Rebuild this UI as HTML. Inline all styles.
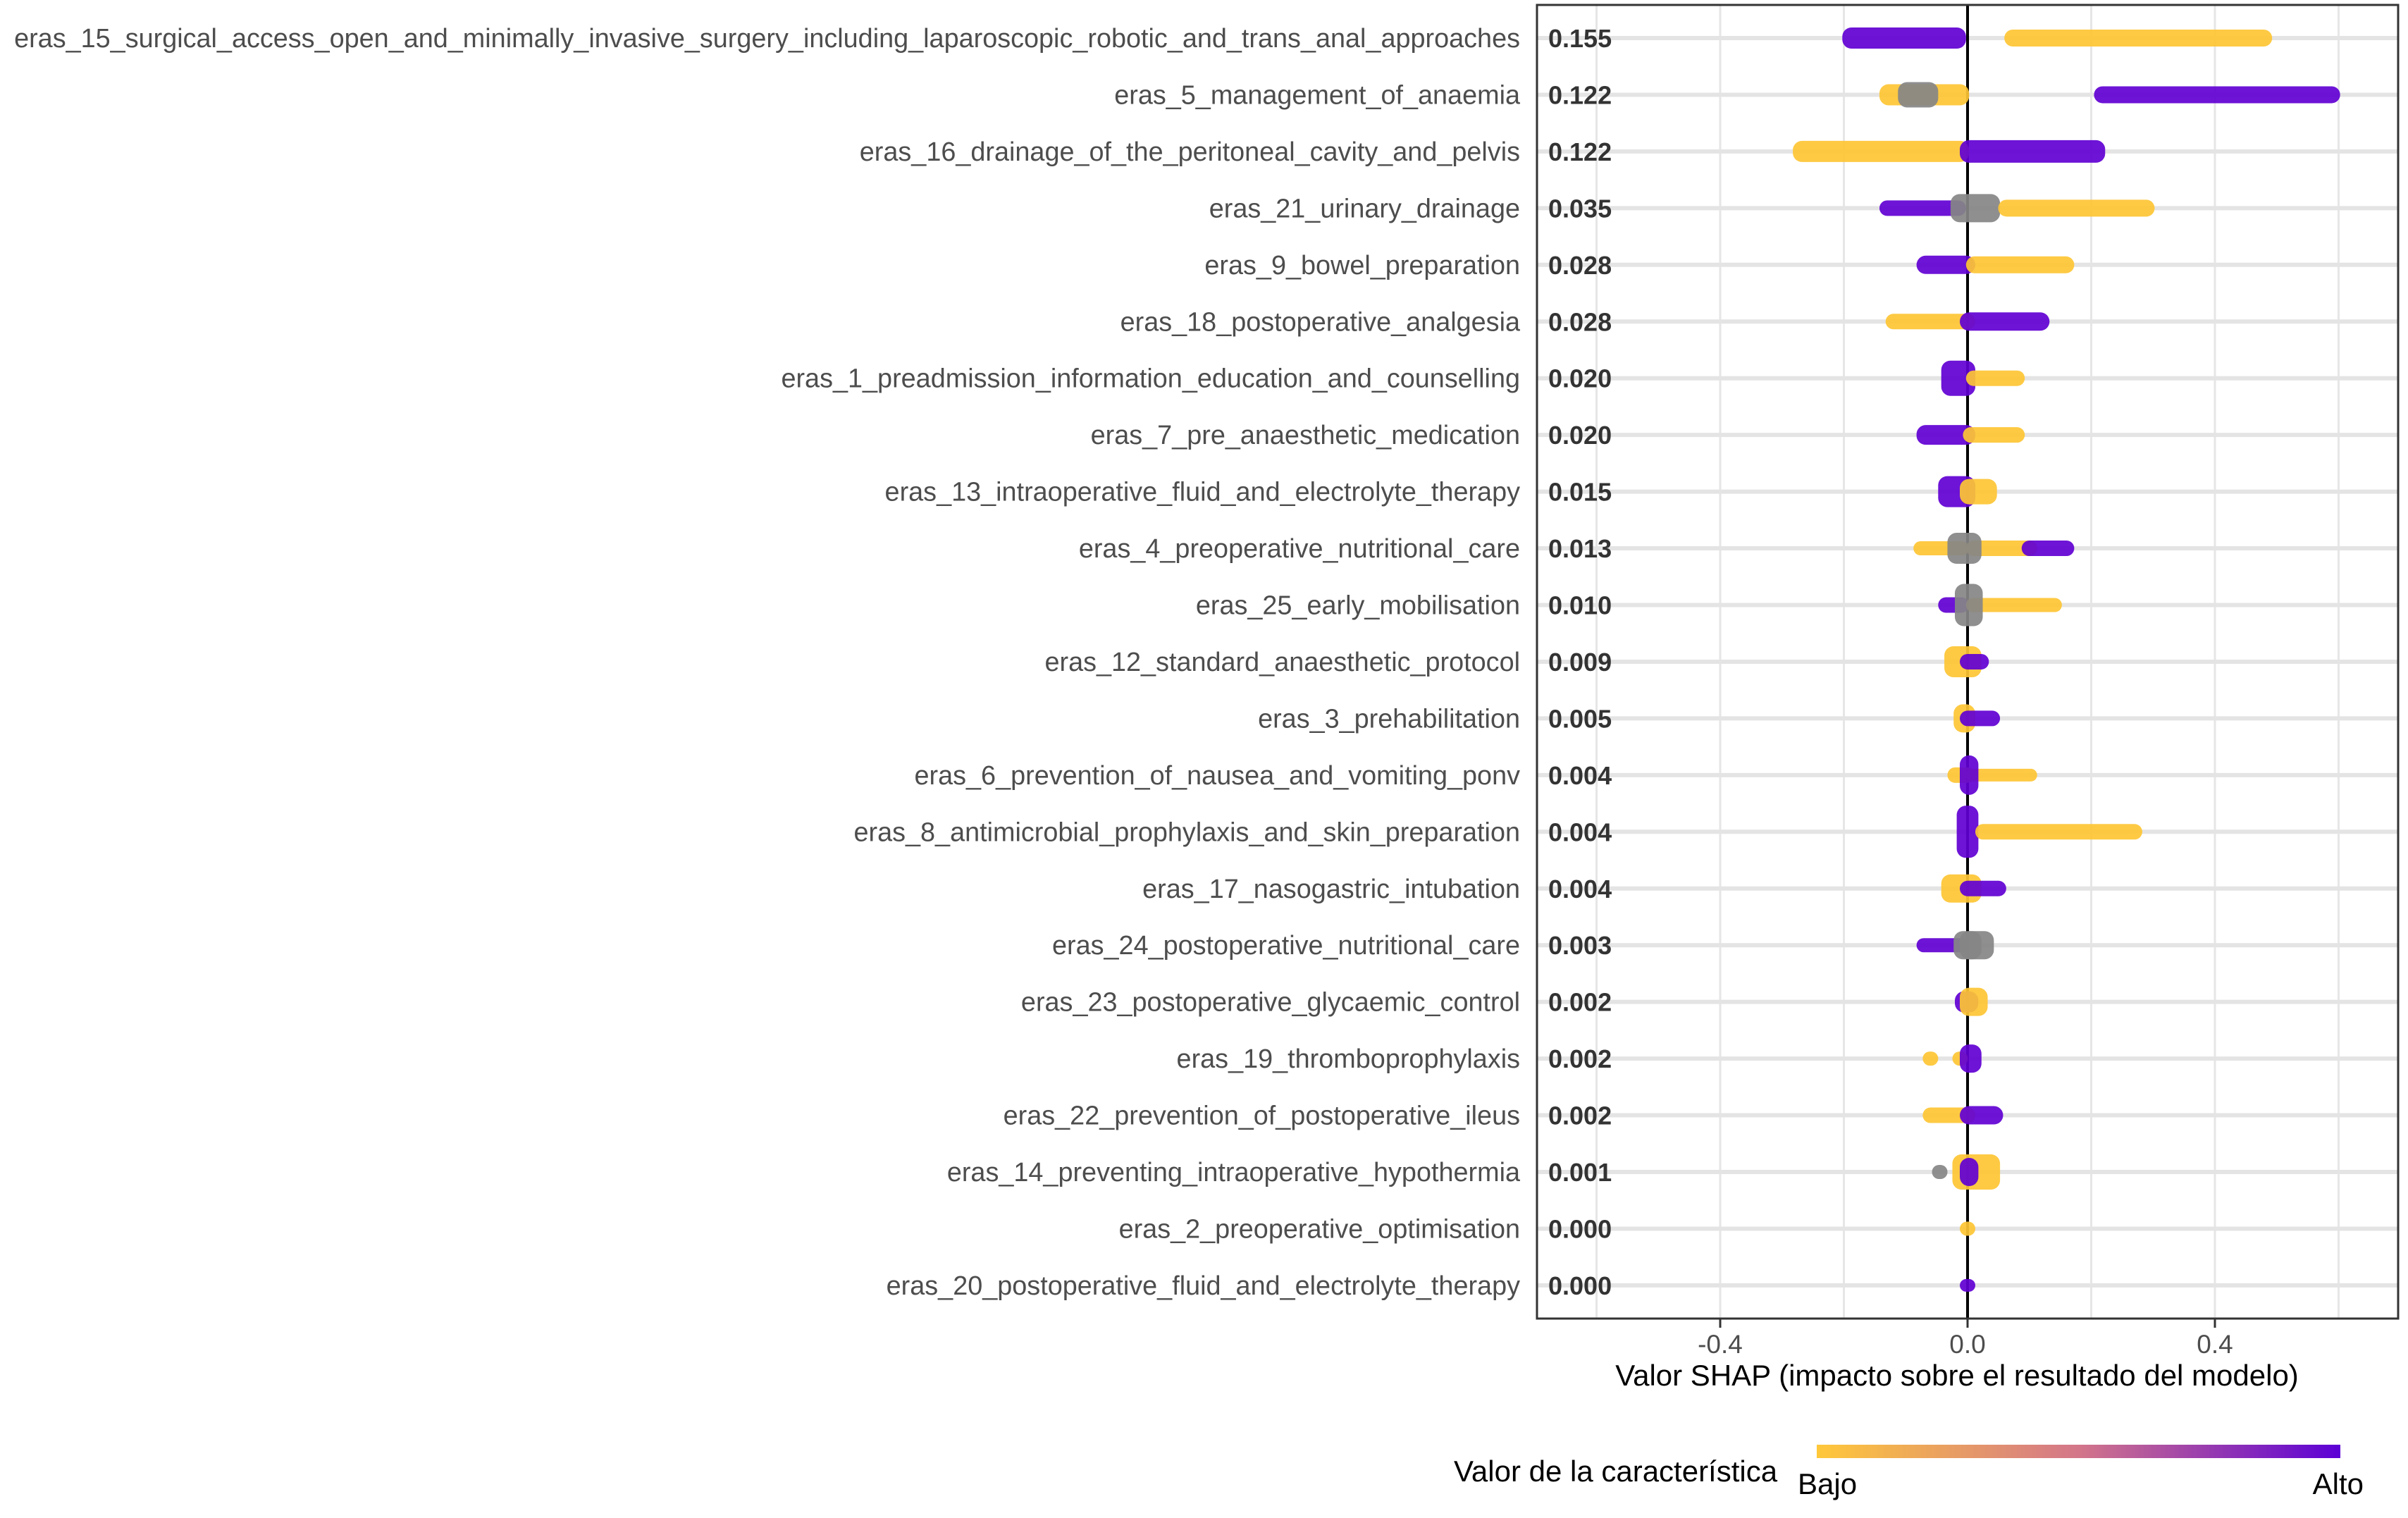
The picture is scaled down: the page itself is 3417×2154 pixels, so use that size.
<!DOCTYPE html>
<html><head><meta charset="utf-8"><style>
html,body{margin:0;padding:0;background:#fff;}
svg{display:block;font-family:"Liberation Sans",sans-serif;}
</style></head><body>
<svg id="chart" width="3417" height="2154" viewBox="0 0 3417 2154" xmlns="http://www.w3.org/2000/svg">
<defs>
<linearGradient id="cbar" x1="0" x2="1" y1="0" y2="0">
<stop offset="0" stop-color="#FFC83A"/><stop offset="0.5" stop-color="#D3768A"/><stop offset="1" stop-color="#5B00D6"/>
</linearGradient>
</defs>
<g id="grid"></g>
<g id="marks"></g>
<g id="labels"></g>
<rect x="2181" y="7" width="1222" height="1864" fill="none" stroke="#333" stroke-width="3"/>
<g id="xaxis"></g>
<text x="2777" y="1966" font-size="42" text-anchor="middle" fill="#000">Valor SHAP (impacto sobre el resultado del modelo)</text>
<text x="2063" y="2102" font-size="42" fill="#000">Valor de la característica</text>
<rect x="2578" y="2050" width="743" height="19" fill="url(#cbar)"/>
<text x="2551" y="2120" font-size="42" fill="#000">Bajo</text>
<text x="3354" y="2120" font-size="42" text-anchor="end" fill="#000">Alto</text>
</svg>
<script>
const features = ["eras_15_surgical_access_open_and_minimally_invasive_surgery_including_laparoscopic_robotic_and_trans_anal_approaches","eras_5_management_of_anaemia","eras_16_drainage_of_the_peritoneal_cavity_and_pelvis","eras_21_urinary_drainage","eras_9_bowel_preparation","eras_18_postoperative_analgesia","eras_1_preadmission_information_education_and_counselling","eras_7_pre_anaesthetic_medication","eras_13_intraoperative_fluid_and_electrolyte_therapy","eras_4_preoperative_nutritional_care","eras_25_early_mobilisation","eras_12_standard_anaesthetic_protocol","eras_3_prehabilitation","eras_6_prevention_of_nausea_and_vomiting_ponv","eras_8_antimicrobial_prophylaxis_and_skin_preparation","eras_17_nasogastric_intubation","eras_24_postoperative_nutritional_care","eras_23_postoperative_glycaemic_control","eras_19_thromboprophylaxis","eras_22_prevention_of_postoperative_ileus","eras_14_preventing_intraoperative_hypothermia","eras_2_preoperative_optimisation","eras_20_postoperative_fluid_and_electrolyte_therapy"];
const meanAbs = ["0.155","0.122","0.122","0.035","0.028","0.028","0.020","0.020","0.015","0.013","0.010","0.009","0.005","0.004","0.004","0.004","0.003","0.002","0.002","0.002","0.001","0.000","0.000"];
const xTicks = [-0.4, 0.0, 0.4];
const xTickLabels = ["-0.4","0.0","0.4"];
const xGrid = [-0.6,-0.4,-0.2,0.2,0.4,0.6];
// clusters: feature row, shap start, shap end, feature value (L low, H high, N missing), spread px
const cRow =   [0,0,1,1,1,2,2,3,3,3,4,4,5,5,6,6,7,7,8,8,9,9,9,9,10,10,10,11,11,12,12,13,13,13,14,14,15,15,16,16,16,17,17,18,18,18,19,19,20,20,20,21,22];
const cStart = [-0.19,0.072,-0.13,-0.10,0.217,-0.27,0.0,-0.13,-0.015,0.062,-0.07,0.01,-0.12,0.0,-0.03,0.01,-0.07,0.005,-0.035,0.0,-0.075,0.01,0.10,-0.02,-0.035,0.01,-0.008,-0.025,0.0,-0.01,0.0,-0.02,0.01,0.0,-0.005,0.025,-0.03,0.0,-0.07,0.0,-0.01,-0.008,0.0,-0.06,-0.012,0.0,-0.06,0.0,-0.045,-0.012,0.0,0.0,0.0];
const cEnd =   [-0.015,0.48,-0.01,-0.06,0.59,-0.01,0.21,-0.015,0.04,0.29,0.0,0.16,0.0,0.12,0.0,0.08,0.0,0.08,0.0,0.035,-0.01,0.10,0.16,0.01,-0.01,0.14,0.012,0.01,0.022,0.0,0.04,0.0,0.10,0.005,0.005,0.27,0.01,0.05,-0.01,0.01,0.03,0.005,0.02,-0.06,-0.012,0.01,0.0,0.045,-0.045,0.04,0.005,0.0,0.0];
const cValue = ["H","L","L","N","H","L","H","H","N","L","H","L","L","H","H","L","H","L","H","L","L","L","H","N","H","L","N","L","H","L","H","L","L","H","H","L","L","H","H","N","N","H","L","L","L","H","L","H","N","L","H","L","H"];
const cSpread =[30,24,30,36,24,30,32,22,40,24,26,24,22,26,50,22,28,22,44,36,20,22,22,44,22,20,60,44,22,40,22,22,18,56,74,22,40,22,20,40,40,30,40,20,20,40,22,26,20,50,40,20,18];

const NS="http://www.w3.org/2000/svg";
const x0=2792, pxPer=351/0.4, y0=54, rowStep=80.45, pLeft=2181, pRight=3403, pTop=7, pBottom=1871;
const X=v=>x0+v*pxPer, Y=i=>y0+i*rowStep;
const colors={L:"#FEC634",H:"#6100D2",N:"#858585"};
function mk(tag,attrs,parent){const e=document.createElementNS(NS,tag);for(const k in attrs)e.setAttribute(k,attrs[k]);parent.appendChild(e);return e;}
const grid=document.getElementById('grid'),marks=document.getElementById('marks'),labels=document.getElementById('labels'),xaxis=document.getElementById('xaxis');
xGrid.forEach(v=>{const l=mk('line',{x1:X(v),x2:X(v),y1:pTop,y2:pBottom,stroke:'#e6e6e6','stroke-width':3},grid);

});
features.forEach((f,i)=>{const l=mk('line',{x1:pLeft,x2:pRight,y1:Y(i),y2:Y(i),stroke:'#e4e4e4','stroke-width':6},grid);


const t=mk('text',{x:2157,y:Y(i)+13,'font-size':37.8,'text-anchor':'end',fill:'#4d4d4d'},labels);t.textContent=f;


const n=mk('text',{x:2197,y:Y(i)+13,'font-size':36,'font-weight':'bold',fill:'#333'},labels);n.textContent=meanAbs[i];

});
const zl=mk('line',{x1:X(0),x2:X(0),y1:pTop,y2:pBottom,stroke:'#000','stroke-width':4},grid);


cRow.forEach((r,k)=>{const a=X(cStart[k]),b=X(cEnd[k]),h=cSpread[k],rad=11;
const w=Math.max(b-a,0)+2*rad;
const e=mk('rect',{x:a-rad,y:Y(r)-h/2,width:w,height:h,rx:Math.min(rad+2,h/2),fill:colors[cValue[k]],'fill-opacity':0.92},marks);

});
xTicks.forEach((v,i)=>{const tk=mk('line',{x1:X(v),x2:X(v),y1:pBottom,y2:pBottom+13,stroke:'#333','stroke-width':3},xaxis);


const t=mk('text',{x:X(v),y:1920,'font-size':37,'text-anchor':'middle',fill:'#4d4d4d'},xaxis);t.textContent=xTickLabels[i];

});
</script>
</body></html>
